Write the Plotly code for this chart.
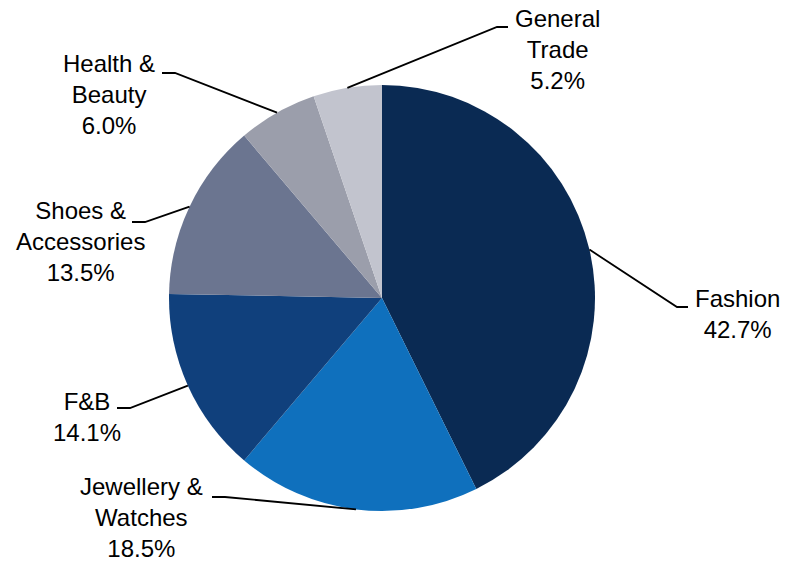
import math
import plotly.graph_objects as go

# Sales mix by category (share of total, %)
categories = ["Fashion", "Jewellery & Watches", "F&B", "Shoes & Accessories",
              "Health & Beauty", "General Trade"]
shares = [42.7, 18.5, 14.1, 13.5, 6.0, 5.2]
label_text = ["Fashion", "Jewellery &<br>Watches", "F&B", "Shoes &<br>Accessories",
              "Health &<br>Beauty", "General<br>Trade"]
colors = ["#0a2a53", "#0f70bd", "#10407c", "#6b7590", "#9b9eab", "#c2c4ce"]

W, H = 785, 561

# Pie placement in pixels
CX, CY, R = 382, 298, 213

# Label block centres and leader-line elbows (pixels)
label_pos = [(737, 314), (141, 517), (87, 417), (80, 241), (109, 95), (557, 50)]
elbows = [
    [(677, 307), (688, 307)],
    [(225, 497), (212, 497)],
    [(130, 408), (117, 408)],
    [(145, 222), (132, 222)],
    [(175, 73), (162, 73)],
    [(497, 27), (508, 27)],
]


def px(x):
    return x / W


def py(y):
    return 1 - y / H


fig = go.Figure(go.Pie(
    labels=categories,
    values=shares,
    sort=False,
    direction="clockwise",
    rotation=0,
    marker=dict(colors=colors, line=dict(width=0)),
    textinfo="none",
    hoverinfo="label+percent",
    showlegend=False,
    domain=dict(x=[px(CX - R), px(CX + R)], y=[py(CY + R), py(CY - R)]),
))

total = sum(shares)
cum = 0.0
font = dict(family="Liberation Sans, Arial, sans-serif", size=24, color="#000000")
for i, (txt, v) in enumerate(zip(label_text, shares)):
    mid = (cum + v / 2) / total
    cum += v
    theta = 2 * math.pi * mid
    ex = CX + R * math.sin(theta)
    ey = CY - R * math.cos(theta)
    (ax, ay), (bx, by) = elbows[i]
    fig.add_shape(
        type="path", xref="paper", yref="paper",
        path=f"M {px(ex)} {py(ey)} L {px(ax)} {py(ay)} L {px(bx)} {py(by)}",
        line=dict(color="#000000", width=1.8),
    )
    lx, ly = label_pos[i]
    fig.add_annotation(
        x=px(lx), y=py(ly), xref="paper", yref="paper",
        text=f"{txt}<br>{v:.1f}%", showarrow=False,
        xanchor="center", yanchor="middle", align="center", font=font,
    )

fig.update_layout(
    width=W, height=H,
    margin=dict(l=0, r=0, t=0, b=0),
    paper_bgcolor="white", plot_bgcolor="white",
)

fig.write_html("out.html")
